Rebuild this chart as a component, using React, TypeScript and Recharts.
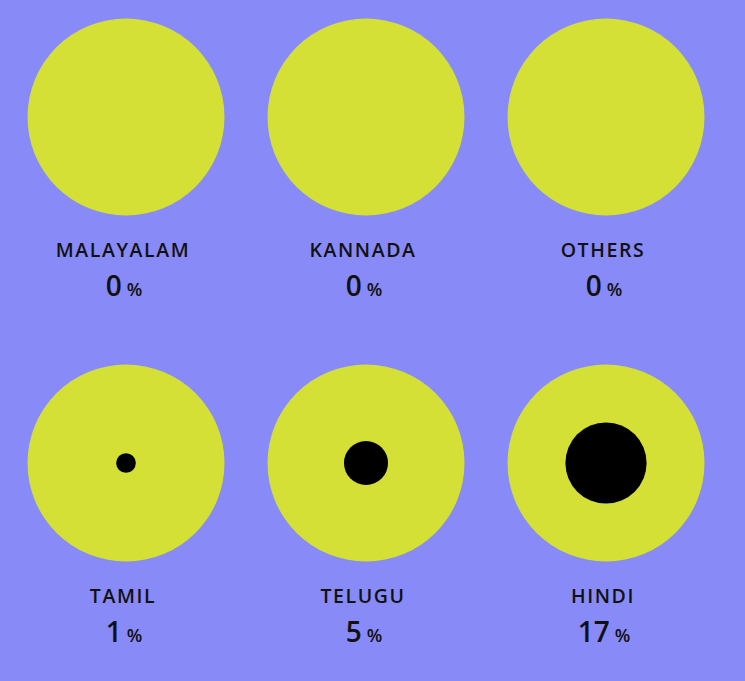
import React from 'react';
import { ScatterChart, Scatter, XAxis, YAxis, ZAxis, LabelList } from 'recharts';

// language share of content, drawn as area-proportional dots
const languages = ['MALAYALAM', 'KANNADA', 'OTHERS', 'TAMIL', 'TELUGU', 'HINDI'];
const shares = [0, 0, 0, 1, 5, 17];
const gridColumns = [0, 1, 2, 0, 1, 2];
const gridRows = [0, 0, 0, 1, 1, 1];

const BG = '#888af8';
const DISC = '#d4e035';
const FONT = '"Open Sans", "Noto Sans", sans-serif';
const MAX_R = 98.5;

const data = languages.map((name, i) => ({
  name,
  share: shares[i],
  full: 100,
  col: gridColumns[i],
  row: gridRows[i],
}));

const renderLabel = (props: any) => {
  const vb = props.viewBox || {};
  const x = vb.x ?? props.x;
  const y = vb.y ?? props.y;
  const w = vb.width ?? props.width ?? 0;
  const h = vb.height ?? props.height ?? 0;
  const cx = x + w / 2;
  const cy = y + h / 2;
  const item = data[props.index];
  if (!item) return null;
  return (
    <g>
      <text
        x={cx - 3}
        y={cy + 140}
        textAnchor="middle"
        fontFamily={FONT}
        fontSize={19.5}
        fontWeight={600}
        letterSpacing={1.6}
        fill="#111"
      >
        {item.name}
      </text>
      <text x={cx - 2} y={cy + 179} textAnchor="middle" fontFamily={FONT} fill="#111">
        <tspan fontSize={28} fontWeight={600}>{item.share}</tspan>
        <tspan fontSize={18} fontWeight={600} dx={5}>%</tspan>
      </text>
    </g>
  );
};

export default function App() {
  const maxArea = Math.PI * MAX_R * MAX_R;
  return (
    <div style={{ position: 'absolute', left: 0, top: 0, width: 745, height: 681, background: BG }}>
      <ScatterChart width={745} height={681} margin={{ top: 117, right: 139, bottom: 218, left: 126 }}>
        <XAxis type="number" dataKey="col" domain={[0, 2]} hide />
        <YAxis type="number" dataKey="row" domain={[0, 1]} reversed hide />
        <ZAxis zAxisId="outer" type="number" dataKey="full" domain={[0, 100]} range={[0, maxArea]} />
        <ZAxis zAxisId="inner" type="number" dataKey="share" domain={[0, 100]} range={[0, maxArea]} />
        <Scatter data={data} zAxisId="outer" fill={DISC} shape="circle" isAnimationActive={false}>
          <LabelList dataKey="name" content={renderLabel} />
        </Scatter>
        <Scatter data={data} zAxisId="inner" fill="#000" shape="circle" isAnimationActive={false} />
      </ScatterChart>
    </div>
  );
}
